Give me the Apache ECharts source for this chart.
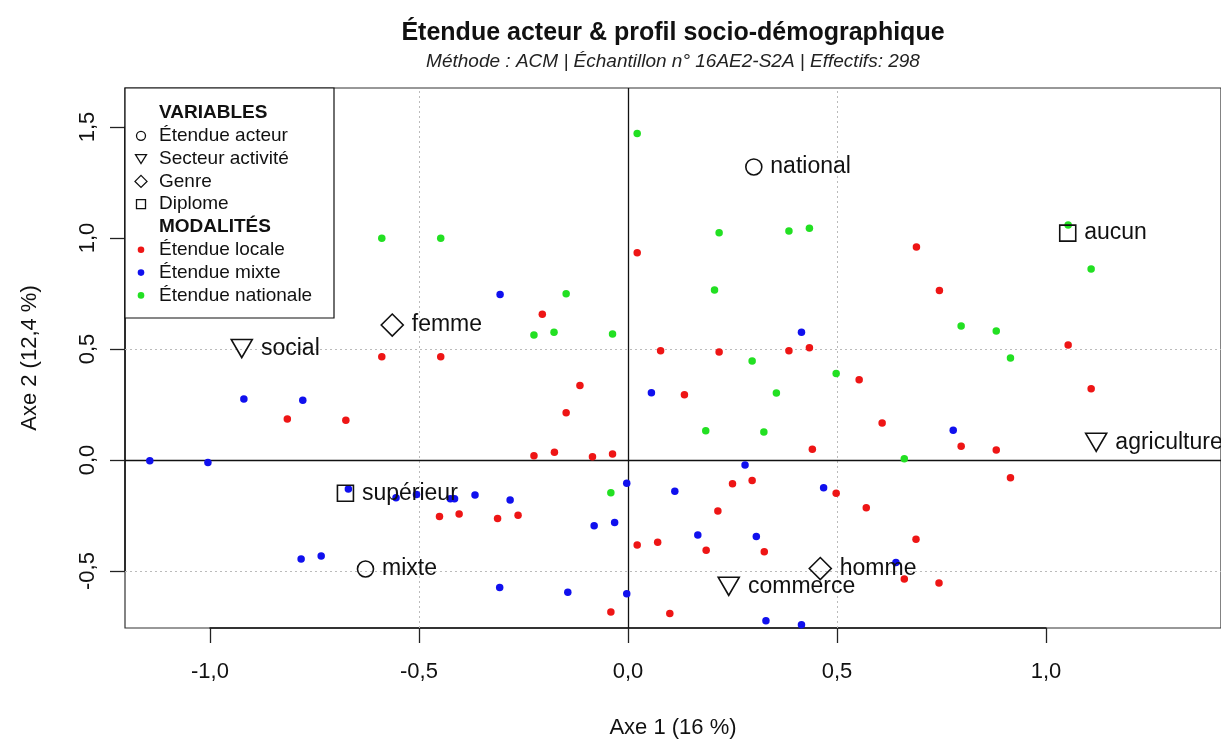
<!DOCTYPE html>
<html><head><meta charset="utf-8">
<script src="https://cdn.jsdelivr.net/npm/echarts/dist/echarts.min.js"></script>
<style>html,body{margin:0;padding:0;background:#fff}#c{width:1221px;height:742px}</style>
</head><body><div id="c"></div><script>
// ---- DATA ----
const titleText = 'Étendue acteur & profil socio-démographique';
const subtitleText = 'Méthode : ACM | Échantillon n° 16AE2-S2A | Effectifs: 298';
const xAxisTitle = 'Axe 1 (16 %)';
const yAxisTitle = 'Axe 2 (12,4 %)';
const xTicks = [-1.0, -0.5, 0.0, 0.5, 1.0];
const yTicks = [-0.5, 0.0, 0.5, 1.0, 1.5];
const refLines = [-0.5, 0.5];

const localePts = [
  [-0.589,0.465],[-0.448,0.465],[0.022,0.934],[-0.205,0.656],[0.434,0.506],[0.385,0.492],
  [0.218,0.486],[0.078,0.492],[0.690,0.959],[0.745,0.763],[1.053,0.518],[0.553,0.362],
  [1.108,0.321],[0.608,0.167],[0.797,0.062],[0.881,0.045],[0.915,-0.080],[0.570,-0.215],
  [0.689,-0.357],[0.661,-0.536],[0.744,-0.554],[-0.115,0.336],[0.135,0.294],[-0.148,0.213],
  [0.441,0.048],[-0.225,0.019],[-0.176,0.035],[-0.085,0.015],[-0.037,0.027],[0.250,-0.107],
  [0.297,-0.092],[0.498,-0.150],[-0.312,-0.263],[-0.263,-0.249],[0.215,-0.230],[0.022,-0.383],
  [0.071,-0.371],[0.187,-0.407],[0.326,-0.413],[-0.041,-0.685],[0.100,-0.692],[-0.815,0.185],
  [-0.675,0.179],[-0.451,-0.255],[-0.404,-0.243]
];
const mixtePts = [
  [-0.306,0.745],[0.415,0.575],[0.778,0.134],[0.641,-0.462],[0.056,0.303],[0.280,-0.023],
  [-0.003,-0.105],[0.112,-0.141],[0.468,-0.125],[-0.282,-0.180],[-0.081,-0.296],[-0.032,-0.281],
  [0.167,-0.338],[0.307,-0.345],[-0.307,-0.574],[-0.144,-0.596],[-0.003,-0.602],[0.330,-0.724],
  [0.415,-0.742],[-0.919,0.275],[-0.778,0.269],[-1.144,-0.003],[-1.005,-0.011],[-0.669,-0.131],
  [-0.555,-0.170],[-0.506,-0.155],[-0.425,-0.174],[-0.415,-0.174],[-0.366,-0.158],[-0.782,-0.446],
  [-0.734,-0.432]
];
const nationalePts = [
  [-0.589,0.999],[-0.448,0.999],[0.022,1.471],[0.218,1.024],[0.385,1.032],[0.434,1.044],
  [0.207,0.766],[-0.148,0.749],[-0.225,0.563],[-0.177,0.575],[-0.037,0.568],[1.053,1.059],
  [1.108,0.860],[0.797,0.604],[0.881,0.581],[0.915,0.459],[0.297,0.446],[0.498,0.390],
  [0.355,0.302],[0.186,0.132],[0.325,0.126],[0.661,0.006],[-0.041,-0.147]
];

const suppNames = ['national','mixte','social','commerce','agriculture','femme','homme','aucun','supérieur'];
const suppVar   = ['acteur','acteur','secteur','secteur','secteur','genre','genre','diplome','diplome'];
const suppX     = [0.301,-0.628,-0.924,0.241,1.120,-0.564,0.460,1.052,-0.676];
const suppY     = [1.320,-0.491,0.502,-0.569,0.080,0.608,-0.489,1.022,-0.150];

const legendVarLabels = ['Étendue acteur','Secteur activité','Genre','Diplome'];
const legendModLabels = ['Étendue locale','Étendue mixte','Étendue nationale'];
const legendHeaders = ['VARIABLES','MODALITÉS'];

// ---- STYLE ----
const FONT = 'Liberation Sans, Arial, Helvetica, sans-serif';
const COLORS = ['#ee1515','#1010ee','#22e022'];
const INK = '#111';
const shapeByVar = {
  acteur:  {symbol:'circle', size:[16,16], rot:0},
  secteur: {symbol:'triangle', size:[21,18], rot:180},
  genre:   {symbol:'diamond', size:[22,22], rot:0},
  diplome: {symbol:'rect', size:[16,16], rot:0}
};
const fmt = v => v.toFixed(1).replace('.', ',');

// plot region in pixels (right edge runs to the page edge)
const PX = {left:125, top:88, width:1096, height:540};
const X0 = 628, XS = 418, Y0 = 460, YS = 222;
const XMIN = (PX.left - X0)/XS, XMAX = (PX.left + PX.width - X0)/XS;
const YMAX = (Y0 - PX.top)/YS, YMIN = (Y0 - (PX.top + PX.height))/YS;
const tgL = X0 + xTicks[0]*XS, tgR = X0 + xTicks[xTicks.length-1]*XS;
const tgT = Y0 - yTicks[yTicks.length-1]*YS, tgB = Y0 - yTicks[0]*YS;

const chart = echarts.init(document.getElementById('c'), null, {renderer:'canvas'});

const markData = [
  ...refLines.map(v => ({xAxis:v, lineStyle:{color:'#bbb', type:[2,3], width:1}})),
  ...refLines.map(v => ({yAxis:v, lineStyle:{color:'#bbb', type:[2,3], width:1}})),
  {xAxis:0, lineStyle:{color:'#111', type:'solid', width:1.3}},
  {yAxis:0, lineStyle:{color:'#111', type:'solid', width:1.3}}
];

function ptsSeries(name, pts, color, withMark){
  const s = {
    name, type:'scatter', xAxisIndex:0, yAxisIndex:0, data:pts,
    symbol:'circle', symbolSize:7.5, itemStyle:{color, opacity:1}, silent:true, z:3
  };
  if (withMark) s.markLine = {silent:true, symbol:'none', label:{show:false}, data:markData, animation:false, z:1};
  return s;
}

const suppData = suppNames.map((n,i) => {
  const sh = shapeByVar[suppVar[i]];
  return {name:n, value:[suppX[i], suppY[i]], symbol:sh.symbol, symbolSize:sh.size, symbolRotate:sh.rot};
});

// legend graphic
const LG = {x:125, y:88, w:209, h:230, symX:141, txtX:159, row0:113, step:22.8};
const legendEls = [{type:'rect', shape:{x:LG.x, y:LG.y, width:LG.w, height:LG.h}, style:{fill:'#fff', stroke:'#111', lineWidth:1.2}, z:10}];
function txt(t, x, y, bold){
  return {type:'text', x, y, z:11, style:{text:t, font:(bold?'bold ':'')+'19px '+FONT, fill:'#111', align:'left', verticalAlign:'middle'}};
}
let r = 0;
legendEls.push(txt(legendHeaders[0], LG.txtX, LG.row0 + r*LG.step, true)); r++;
legendVarLabels.forEach((t,i) => {
  const y = LG.row0 + r*LG.step;
  legendEls.push(txt(t, LG.txtX, y, false));
  const sx = LG.symX;
  let el;
  if (i===0) el = {type:'circle', shape:{cx:sx, cy:y, r:4.5}};
  else if (i===1) el = {type:'polygon', shape:{points:[[sx-5.5,y-4],[sx+5.5,y-4],[sx,y+5]]}};
  else if (i===2) el = {type:'polygon', shape:{points:[[sx,y-6],[sx+6,y],[sx,y+6],[sx-6,y]]}};
  else el = {type:'rect', shape:{x:sx-4.5, y:y-4.5, width:9, height:9}};
  el.style = {fill:'none', stroke:'#111', lineWidth:1.3}; el.z = 11;
  legendEls.push(el);
  r++;
});
legendEls.push(txt(legendHeaders[1], LG.txtX, LG.row0 + r*LG.step, true)); r++;
legendModLabels.forEach((t,i) => {
  const y = LG.row0 + r*LG.step;
  legendEls.push(txt(t, LG.txtX, y, false));
  legendEls.push({type:'circle', shape:{cx:LG.symX, cy:y, r:3.3}, style:{fill:COLORS[i]}, z:11});
  r++;
});

const cx = 673;
const option = {
  animation:false,
  backgroundColor:'#fff',
  textStyle:{fontFamily:FONT},
  grid:[
    {left:PX.left, top:PX.top, width:PX.width, height:PX.height, show:true, borderColor:'#333', borderWidth:1.2, backgroundColor:'transparent'},
    {left:tgL, top:tgT, width:tgR-tgL, height:tgB-tgT, show:false}
  ],
  xAxis:[
    {gridIndex:0, type:'value', min:XMIN, max:XMAX, show:false},
    {gridIndex:1, type:'value', min:xTicks[0], max:xTicks[xTicks.length-1], interval:0.5, position:'bottom',
     offset:(PX.top+PX.height)-tgB,
     axisLine:{show:true, onZero:false, lineStyle:{color:'#111', width:1.5}},
     axisTick:{show:true, length:15, lineStyle:{color:'#222', width:1.3}},
     axisLabel:{show:true, formatter:fmt, fontSize:22, color:'#111', margin:33, fontFamily:FONT},
     splitLine:{show:false}}
  ],
  yAxis:[
    {gridIndex:0, type:'value', min:YMIN, max:YMAX, show:false},
    {gridIndex:1, type:'value', min:yTicks[0], max:yTicks[yTicks.length-1], interval:0.5, position:'left',
     offset:tgL-PX.left,
     axisLine:{show:true, onZero:false, lineStyle:{color:'#111', width:1.5}},
     axisTick:{show:true, length:15, lineStyle:{color:'#222', width:1.3}},
     axisLabel:{show:true, formatter:fmt, fontSize:22, color:'#111', rotate:90, margin:26, fontFamily:FONT},
     splitLine:{show:false}}
  ],
  graphic:[
    {type:'text', x:cx, y:33, style:{text:titleText, font:'bold 25px '+FONT, fill:'#111', align:'center', verticalAlign:'middle'}},
    {type:'text', x:cx, y:62, style:{text:subtitleText, font:'italic 19px '+FONT, fill:'#222', align:'center', verticalAlign:'middle'}},
    {type:'text', x:cx, y:728, style:{text:xAxisTitle, font:'22px '+FONT, fill:'#111', align:'center', verticalAlign:'middle'}},
    {type:'text', x:30, y:PX.top+PX.height/2, rotation:Math.PI/2, style:{text:yAxisTitle, font:'22px '+FONT, fill:'#111', align:'center', verticalAlign:'middle'}},
    ...legendEls
  ],
  series:[
    ptsSeries('Étendue locale', localePts, COLORS[0], true),
    ptsSeries('Étendue mixte', mixtePts, COLORS[1], false),
    ptsSeries('Étendue nationale', nationalePts, COLORS[2], false),
    {name:'supp', type:'scatter', xAxisIndex:0, yAxisIndex:0, data:suppData, silent:true, z:5,
     itemStyle:{color:'none', borderColor:INK, borderWidth:1.6, opacity:1},
     label:{show:true, position:'right', distance:6, formatter:'{b}', fontSize:23, color:INK, opacity:1,
            textBorderWidth:0, fontFamily:FONT}}
  ]
};
chart.setOption(option);
</script></body></html>
